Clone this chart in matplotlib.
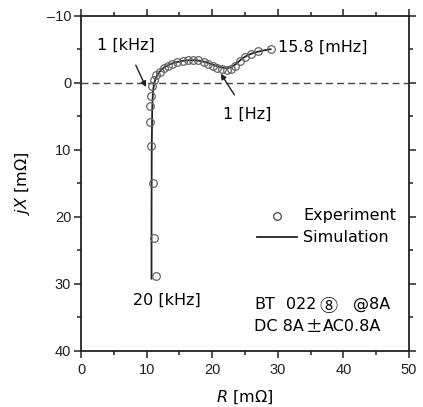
import matplotlib
matplotlib.use("Agg")
import matplotlib.pyplot as plt
from matplotlib.ticker import MultipleLocator

plt.rcParams['font.family'] = ['DejaVu Sans', 'Noto Sans CJK JP']
plt.rcParams['mathtext.fontset'] = 'dejavusans'
plt.rcParams['axes.unicode_minus'] = False

# Experimental data (R [mOhm], X [mOhm], X axis inverted)
exp_r = [11.5, 11.2, 10.9, 10.6, 10.55, 10.55, 10.6, 10.85, 11.1, 11.5, 12.0, 12.6,
         13.2, 13.9, 14.7, 15.5, 16.3, 17.1, 17.9, 18.7, 19.4, 20.1, 20.8, 21.5,
         22.2, 22.9, 23.5, 24.2, 25.0, 25.9, 27.0, 28.9]
exp_x = [28.8, 23.2, 14.9, 9.4, 5.8, 3.4, 1.9, 0.5, -0.4, -1.2, -1.7, -2.2,
         -2.6, -2.9, -3.15, -3.3, -3.4, -3.45, -3.4, -3.2, -2.9, -2.6, -2.3, -2.1,
         -1.95, -2.1, -2.6, -3.3, -3.9, -4.4, -4.8, -5.05]

# Simulation curve
sim_r = [10.75, 10.75, 10.78, 10.85, 10.95, 11.1, 11.4, 11.9, 12.6, 13.5, 14.5, 15.5,
         16.5, 17.5, 18.5, 19.5, 20.5, 21.5, 22.3, 23.0, 23.7, 24.5, 25.5, 26.5, 27.5, 28.9]
sim_x = [29.2, 20.0, 10.0, 4.0, 1.5, 0.3, -0.8, -1.6, -2.3, -2.8, -3.1, -3.3,
         -3.4, -3.4, -3.25, -2.95, -2.6, -2.3, -2.2, -2.4, -2.9, -3.6, -4.2, -4.55, -4.8, -5.05]

fig = plt.figure(figsize=(4.23, 4.07), dpi=100)
ax = fig.add_axes([0.1915, 0.1376, 0.967 - 0.1915, 0.9607 - 0.1376])

ax.axhline(0, color='#444444', lw=1.0, ls=(0, (5, 3)), zorder=1)
ax.plot(sim_r, sim_x, color='#222222', lw=1.3, zorder=2)
ax.plot(exp_r, exp_x, ls='none', marker='o', ms=5.5, mfc='none', mec='#666666',
        mew=0.9, zorder=3)

ax.set_xlim(0, 50)
ax.set_ylim(40, -10)
ax.xaxis.set_major_locator(MultipleLocator(10))
ax.xaxis.set_minor_locator(MultipleLocator(5))
ax.yaxis.set_major_locator(MultipleLocator(10))
ax.yaxis.set_minor_locator(MultipleLocator(5))
ax.tick_params(which='both', direction='out', top=True, right=True,
               labeltop=False, labelright=False, labelsize=10.5, colors='#222222')
ax.tick_params(which='major', length=5, width=1.1)
ax.tick_params(which='minor', length=3, width=1.1)
ax.tick_params(axis='x', which='major', pad=4)
ax.tick_params(axis='y', which='major', pad=2)
ax.set_yticks([-10, 0, 10, 20, 30, 40])
ax.set_yticklabels(['\u201310', '0', '10', '20', '30', '40'])
for lbl in ax.get_xticklabels() + ax.get_yticklabels():
    lbl.set_family('Liberation Sans')
for s in ax.spines.values():
    s.set_linewidth(1.3)
    s.set_color('#222222')

ax.set_xlabel(r'$R$ [m$\Omega$]', fontsize=11.5, labelpad=8)
ax.set_ylabel(r'$jX$ [m$\Omega$]', fontsize=11.5, labelpad=11)

ax.annotate('1 [kHz]', xy=(9.9, 0.6), xytext=(6.9, -5.7), ha='center', va='center',
            fontsize=11.5, arrowprops=dict(arrowstyle='-|>', color='#222222', lw=1.0,
                                           shrinkA=8, shrinkB=0, mutation_scale=8))
ax.annotate('1 [Hz]', xy=(21.3, -1.4), xytext=(25.3, 4.7), ha='center', va='center',
            fontsize=11.5, arrowprops=dict(arrowstyle='-|>', color='#222222', lw=1.0,
                                           shrinkA=8, shrinkB=0, mutation_scale=8))
ax.text(30.0, -5.4, '15.8 [mHz]', ha='left', va='center', fontsize=11.5)
ax.text(13.1, 32.5, '20 [kHz]', ha='center', va='center', fontsize=11.5)

# legend (manual placement to match reference)
ax.plot([29.9], [19.8], ls='none', marker='o', ms=5.5, mfc='none', mec='#444444', mew=0.9)
ax.text(33.9, 19.8, 'Experiment', ha='left', va='center', fontsize=11.5)
ax.plot([26.8, 32.9], [23.0, 23.0], color='#222222', lw=1.3)
ax.text(33.9, 23.0, 'Simulation', ha='left', va='center', fontsize=11.5)

# sample note, placed piece by piece to mimic the reference typesetting
ax.text(26.4, 33.1, 'BT', ha='left', va='center', fontsize=11.5)
ax.text(31.3, 33.1, '022', ha='left', va='center', fontsize=11.5)
ax.text(36.4, 33.5, '⑧', ha='left', va='center', fontsize=13,
        family=['Noto Sans CJK JP', 'DejaVu Sans'])
ax.text(41.4, 33.1, '@8A', ha='left', va='center', fontsize=11.5)
ax.text(26.4, 36.3, 'DC 8A', ha='left', va='center', fontsize=11.5)
ax.text(34.2, 36.5, '±', ha='left', va='center', fontsize=12,
        family=['Noto Sans CJK JP', 'DejaVu Sans'])
ax.text(36.9, 36.3, 'AC0.8A', ha='left', va='center', fontsize=11.5)

fig.savefig('out.png', dpi=100)
